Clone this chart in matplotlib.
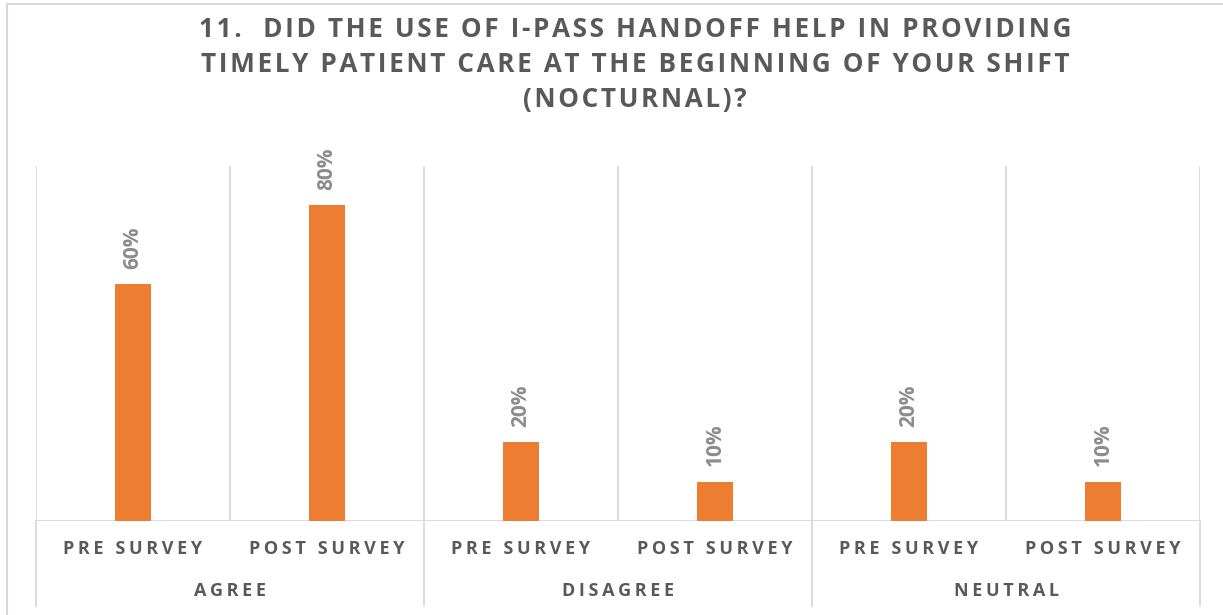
import matplotlib
matplotlib.use("Agg")
import matplotlib.pyplot as plt
from matplotlib.lines import Line2D

# survey answers, two bars per answer group
groups = ["AGREE", "DISAGREE", "NEUTRAL"]
surveys = ["PRE SURVEY", "POST SURVEY"]
values = [0.60, 0.80, 0.20, 0.10, 0.20, 0.10]

title = ("11.  DID THE USE OF I-PASS HANDOFF HELP IN PROVIDING\n"
         "TIMELY PATIENT CARE AT THE BEGINNING OF YOUR SHIFT\n"
         "(NOCTURNAL)?")

FONT = ["Open Sans", "DejaVu Sans"]
BAR = "#ED7D31"
GRID = "#D9D9D9"
TXT = "#595959"


# Excel style letter spacing
def spaced(s, gap="\u2009"):
    return "\n".join(gap.join(line) for line in s.split("\n"))


W, H = 1223, 615
fig = plt.figure(figsize=(W / 100, H / 100), dpi=100)
ax = fig.add_axes([36 / W, (H - 521) / H, (1200 - 36) / W, (521 - 165.5) / H])

n = len(values)
xs = list(range(n))
ax.bar(xs, values, width=36 / 194, color=BAR, zorder=3)
ax.set_xlim(-0.5, n - 0.5)
ax.set_ylim(0, 0.9)

for x, v in zip(xs, values):
    ax.annotate(f"{v:.0%}", (x, v), xytext=(0, 11), textcoords="offset points",
                rotation=90, ha="center", va="bottom", fontsize=15,
                fontweight="bold", color="#8C8C8C", family=FONT)

for sp in ax.spines.values():
    sp.set_visible(False)
ax.set_xticks([])
ax.set_yticks([])

# category gridlines and the baseline
for b in range(n + 1):
    ax.axvline(b - 0.5, color=GRID, lw=1.3, zorder=1)
ax.axhline(0, color=GRID, lw=1.3, zorder=2)

# group separators running down through the label rows
xt = ax.get_xaxis_transform()
for g in range(len(groups) + 1):
    ax.plot([g * 2 - 0.5] * 2, [0, -(606 - 521) / (521 - 165.5)], color=GRID,
            lw=1.3, transform=xt, clip_on=False)

for i, x in enumerate(xs):
    ax.text(x, -(549.5 - 521) / (521 - 165.5), spaced(surveys[i % 2]), transform=xt,
            ha="center", va="center", fontsize=13, fontweight="bold", color=TXT,
            family=FONT)
for g, name in enumerate(groups):
    ax.text(g * 2 + 0.5, -(590.5 - 521) / (521 - 165.5), spaced(name), transform=xt,
            ha="center", va="center", fontsize=13, fontweight="bold", color=TXT,
            family=FONT)

fig.text(635 / W, 1 - 64.5 / H, spaced(title, "\u200a"), ha="center", va="center",
         fontsize=18.8, fontweight="bold", color=TXT, family=FONT, linespacing=1.38)

# chart frame (top and left edges)
fig.add_artist(Line2D([7 / W, 1], [1 - 4 / H] * 2, color=GRID, lw=1.5))
fig.add_artist(Line2D([7 / W] * 2, [0, 1 - 4 / H], color=GRID, lw=1.5))

fig.savefig("out.png", dpi=100, facecolor="white")
